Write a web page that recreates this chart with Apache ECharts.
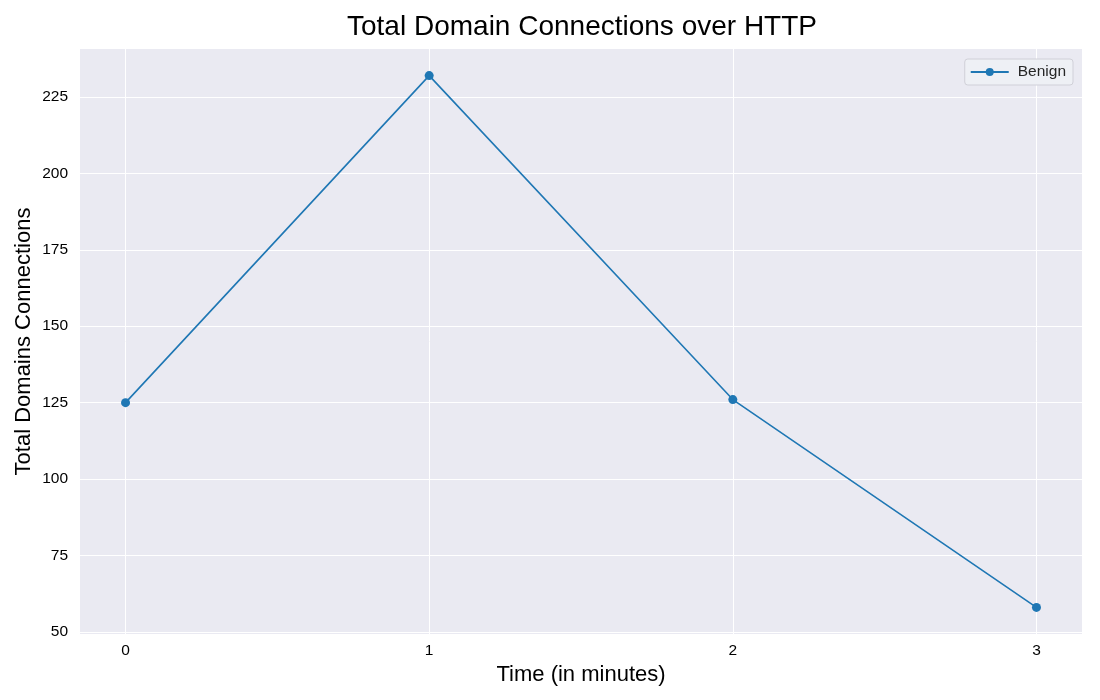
<!DOCTYPE html>
<html>
<head>
<meta charset="utf-8">
<script src="https://cdn.jsdelivr.net/npm/echarts@6/dist/echarts.min.js"></script>
<style>
  html, body { margin: 0; padding: 0; background: #fff; }
  #chart { width: 1100px; height: 700px; }
</style>
</head>
<body>
<div id="chart"></div>
<script>
// data
const minutes = [0, 1, 2, 3]
const benign = [125, 232, 126, 58]
const xTicks = [0, 1, 2, 3]
const yTicks = [50, 75, 100, 125, 150, 175, 200, 225]

const font = 'Liberation Sans, Arial, sans-serif'

const myChart = echarts.init(document.getElementById('chart'))

const option = {
  backgroundColor: '#ffffff',
  animation: false,
  title: {
    text: 'Total Domain Connections over HTTP',
    left: 577,
    textAlign: 'center',
    top: 8,
    textStyle: { fontFamily: font, fontSize: 28, fontWeight: 'normal', color: '#000' }
  },
  legend: {
    right: 27,
    top: 59,
    data: ['Benign'],
    backgroundColor: '#eef0f5',
    borderColor: '#d0d0d8',
    borderWidth: 1,
    borderRadius: 3,
    padding: [5, 7, 5, 5],
    itemWidth: 38,
    itemHeight: 10,
    itemGap: 10,
    textStyle: { fontFamily: font, fontSize: 15.5, color: '#262626', padding: [0, 0, 0, 4] }
  },
  grid: {
    left: 80,
    right: 18,
    top: 49,
    bottom: 66,
    show: true,
    backgroundColor: '#eaeaf2',
    borderWidth: 0
  },
  xAxis: {
    type: 'value',
    min: -0.15,
    max: 3.15,
    name: 'Time (in minutes)',
    nameLocation: 'middle',
    nameGap: 27,
    nameTextStyle: { fontFamily: font, fontSize: 22, color: '#000' },
    axisLine: { show: false },
    axisTick: { show: false, customValues: xTicks },
    axisLabel: {
      customValues: xTicks,
      margin: 9,
      fontFamily: font,
      fontSize: 15.5,
      color: '#000'
    },
    splitLine: { show: true, lineStyle: { color: '#ffffff', width: 1 } }
  },
  yAxis: {
    type: 'value',
    min: 49.3,
    max: 240.7,
    name: 'Total Domains Connections',
    nameLocation: 'middle',
    nameGap: 45,
    nameMoveOverlap: false,
    nameTextStyle: { fontFamily: font, fontSize: 22, color: '#000' },
    axisLine: { show: false },
    axisTick: { show: false, customValues: yTicks },
    axisLabel: {
      customValues: yTicks,
      margin: 12,
      fontFamily: font,
      fontSize: 15.5,
      color: '#000'
    },
    splitLine: { show: true, lineStyle: { color: '#ffffff', width: 1 } }
  },
  series: [
    {
      name: 'Benign',
      type: 'line',
      data: minutes.map((m, i) => [m, benign[i]]),
      symbol: 'circle',
      symbolSize: 9,
      color: '#1f77b4',
      lineStyle: { width: 1.6, color: '#1f77b4' },
      itemStyle: { color: '#1f77b4' }
    }
  ]
}

myChart.setOption(option)
</script>
</body>
</html>
